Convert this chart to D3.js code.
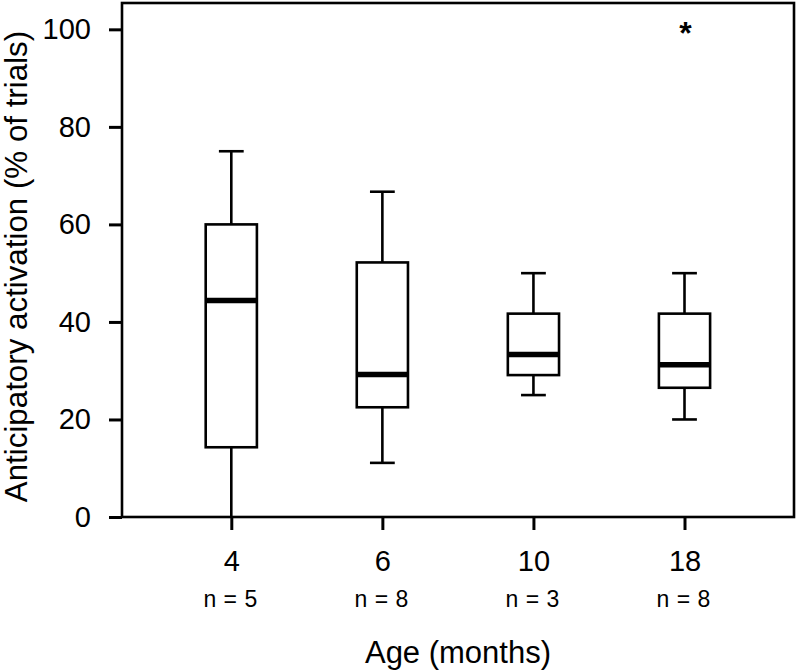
<!DOCTYPE html>
<html><head><meta charset="utf-8">
<script src="https://cdn.jsdelivr.net/npm/d3@7"></script>
<style>body{margin:0;background:#fff}svg{display:block}</style>
</head><body><svg id="c" width="796" height="672"></svg>
<script>
// ---- data ----
const categories   = ["4", "6", "10", "18"];
const sampleSizes  = [5, 8, 3, 8];
const whiskerLow   = [0, 11.1, 25, 20];
const quartile1    = [14.3, 22.5, 29.1, 26.5];
const medians      = [44.4, 29.2, 33.3, 31.2];
const quartile3    = [60, 52.2, 41.7, 41.7];
const whiskerHigh  = [75, 66.7, 50, 50];
const outlierCats  = ["18"];
const outlierVals  = [100];
const yTickValues  = [0, 20, 40, 60, 80, 100];

(function () {
// ---- layout ----
const pL = 122, pR = 794, pT = 3, pB = 517;
const yMax = 105.4;
const font = "'Liberation Sans', Arial, Helvetica, sans-serif";

const svg = d3.select("#c");
const x = d3.scalePoint().domain(categories).range([231.3, 684.5]);
const y = d3.scaleLinear().domain([0, yMax]).range([pB, pT]);

// frame
svg.append("rect")
  .attr("x", pL).attr("y", pT)
  .attr("width", pR - pL).attr("height", pB - pT)
  .attr("fill", "none").attr("stroke", "#000").attr("stroke-width", 2.6);

// y axis
const ya = svg.append("g").attr("transform", `translate(${pL},0)`)
  .call(d3.axisLeft(y).tickValues(yTickValues).tickSizeInner(13).tickSizeOuter(0).tickPadding(18));
ya.select(".domain").remove();
ya.selectAll(".tick line").attr("stroke", "#000").attr("stroke-width", 3);
ya.selectAll(".tick text").attr("font-family", font).attr("font-size", 29).attr("fill", "#000");

// x axis
const xa = svg.append("g").attr("transform", `translate(0,${pB})`)
  .call(d3.axisBottom(x).tickSizeInner(13).tickSizeOuter(0).tickPadding(20.5));
xa.select(".domain").remove();
xa.selectAll(".tick line").attr("stroke", "#000").attr("stroke-width", 3);
xa.selectAll(".tick text").attr("font-family", font).attr("font-size", 29).attr("fill", "#000");

// n labels
svg.append("g").selectAll("text").data(categories).join("text")
  .attr("x", d => x(d) - 1)
  .attr("y", 606.5)
  .attr("text-anchor", "middle")
  .attr("font-family", font).attr("font-size", 23)
  .attr("word-spacing", 1)
  .text((d, i) => `n = ${sampleSizes[i]}`);

// axis titles
svg.append("text")
  .attr("x", (pL + pR) / 2).attr("y", 663)
  .attr("text-anchor", "middle")
  .attr("font-family", font).attr("font-size", 31)
  .text("Age (months)");
svg.append("text")
  .attr("transform", `translate(26.5,${266.5}) rotate(-90)`)
  .attr("text-anchor", "middle")
  .attr("font-family", font).attr("font-size", 31.3)
  .text("Anticipatory activation (% of trials)");

// boxes
const boxHalf = 25.6, capHalf = 12.4;
const g = svg.append("g");
categories.forEach((c, i) => {
  const cx = x(c);
  g.append("line").attr("x1", cx).attr("x2", cx)
    .attr("y1", y(quartile3[i])).attr("y2", y(whiskerHigh[i]))
    .attr("stroke", "#000").attr("stroke-width", 2.6);
  g.append("line").attr("x1", cx).attr("x2", cx)
    .attr("y1", y(quartile1[i])).attr("y2", y(whiskerLow[i]))
    .attr("stroke", "#000").attr("stroke-width", 2.6);
  g.append("line").attr("x1", cx - capHalf).attr("x2", cx + capHalf)
    .attr("y1", y(whiskerHigh[i])).attr("y2", y(whiskerHigh[i]))
    .attr("stroke", "#000").attr("stroke-width", 2.6);
  if (whiskerLow[i] > 0) {
    g.append("line").attr("x1", cx - capHalf).attr("x2", cx + capHalf)
      .attr("y1", y(whiskerLow[i])).attr("y2", y(whiskerLow[i]))
      .attr("stroke", "#000").attr("stroke-width", 2.6);
  }
  g.append("rect")
    .attr("x", cx - boxHalf).attr("y", y(quartile3[i]))
    .attr("width", boxHalf * 2).attr("height", y(quartile1[i]) - y(quartile3[i]))
    .attr("fill", "#fff").attr("stroke", "#000").attr("stroke-width", 2.6);
  g.append("line").attr("x1", cx - boxHalf).attr("x2", cx + boxHalf)
    .attr("y1", y(medians[i])).attr("y2", y(medians[i]))
    .attr("stroke", "#000").attr("stroke-width", 5.5);
});

// outliers
outlierCats.forEach((c, i) => {
  svg.append("text")
    .attr("x", x(c) + 1).attr("y", y(outlierVals[i]) + 15)
    .attr("text-anchor", "middle")
    .attr("font-family", font).attr("font-size", 32).attr("font-weight", "bold")
    .text("*");
});
})();
</script>
</body></html>
